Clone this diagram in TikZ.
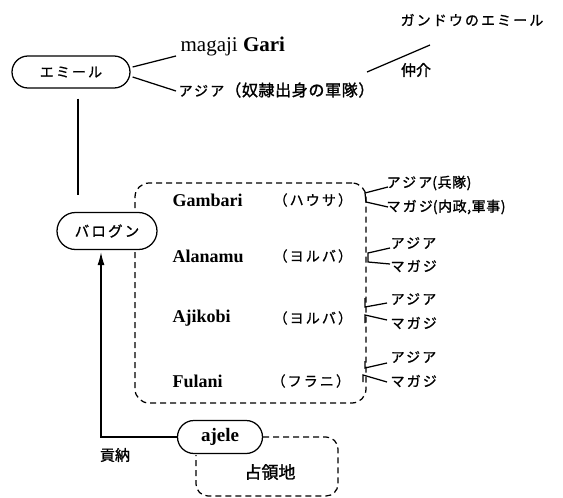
\documentclass[tikz,border=0pt]{standalone}
\usepackage{fontspec}
\setmainfont{Liberation Serif}
\newfontfamily\jp[FakeBold=1.5]{Noto Sans CJK JP}
\newfontfamily\jpsp[LetterSpace=15,FakeBold=1]{Noto Sans CJK JP}
\newfontfamily\jpsm[LetterSpace=4,FakeBold=1.5]{Noto Sans CJK JP}
\usetikzlibrary{shapes.misc,arrows.meta,calc}
\begin{document}
\begin{tikzpicture}[x=1pt,y=-1pt,line width=1.25pt,
  pill/.style={draw,rounded rectangle,inner sep=0pt,fill=white},
  grp/.style={font=\fontsize{18}{20}\selectfont\bfseries,anchor=west,inner sep=0pt},
  kana/.style={font=\fontsize{14}{16}\selectfont\jpsp,inner sep=0pt},
  kanas/.style={font=\fontsize{14}{16}\selectfont,inner sep=0pt,anchor=west},
  dashbox/.style={draw,dashed,dash pattern=on 6pt off 4pt,rounded corners=14pt}]
\useasboundingbox (0,0) rectangle (563,498);

% top right
\node[kana] (gandou) at (472,20) {ガンドウのエミール};
\node[font=\fontsize{15}{17}\selectfont\jp,inner sep=0pt] (chukai) at (416,70) {仲介};
\coordinate (medA) at (367,72);
\coordinate (medB) at (430,45);
\draw (medA) -- (medB);

% emir
\node[pill,minimum width=118,minimum height=32] (emir) at (71,72) {\fontsize{14}{16}\selectfont\jpsp エミール};
\node[anchor=west,inner sep=0pt,font=\fontsize{21}{23}\selectfont] (magaji) at (180,46) {magaji \textbf{Gari}};
\node[anchor=west,inner sep=0pt] (asia0) at (178,90) {{\fontsize{14}{16}\selectfont\jpsp アジア}\hspace{1pt}{\fontsize{16}{18}\selectfont\jpsm （奴隷出身の軍隊）}};
\draw ($(emir.east)+(2,-5)$) -- ($(magaji.west)+(-4,10)$);
\draw ($(emir.east)+(2,5)$) -- ($(asia0.west)+(-2,1)$);

% group box
\node[dashbox,minimum width=231,minimum height=220] (group) at (250.5,293) {};

% barogun
\node[pill,minimum width=100,minimum height=37] (barogun) at (107,231) {\fontsize{14.5}{16}\selectfont\jpsp バログン};
\draw ($(emir.south)+(7,10)$) -- ($(barogun.north)+(-29,-17)$);

% groups
\node[grp] (gambari) at (172,200) {Gambari};
\node[grp] (alanamu) at (172,256) {Alanamu};
\node[grp] (ajikobi) at (172,318) {Ajikobi};
\node[grp] (fulani) at (172,381) {Fulani};
\node[kana,anchor=west] (hausa) at (273,200) {（ハウサ）};
\node[kana,anchor=west] (yoruba1) at (273,256) {（ヨルバ）};
\node[kana,anchor=west] (yoruba2) at (273,318) {（ヨルバ）};
\node[kana,anchor=west] (furani) at (271,381) {（フラニ）};

% right labels
\node[kanas] (a1) at (386,183) {{\jpsp アジア}{\jpsm(兵隊)}};
\node[kanas] (m1) at (386,207) {{\jpsp マガジ}{\jpsm(内政,軍事)}};
\node[kana,anchor=west] (a2) at (390,243) {アジア};
\node[kana,anchor=west] (m2) at (390,266) {マガジ};
\node[kana,anchor=west] (a3) at (390,299) {アジア};
\node[kana,anchor=west] (m3) at (390,323) {マガジ};
\node[kana,anchor=west] (a4) at (390,357) {アジア};
\node[kana,anchor=west] (m4) at (390,381) {マガジ};

\draw ($(a1.west)+(2,4)$) -- (365,193) -- (366,202) -- ($(m1.west)+(2,0)$);
\draw ($(a2.west)+(0,5)$) -- (368,253) -- (368,262) -- ($(m2.west)+(0,-2)$);
\draw (365,298) -- (365,307) -- ($(a3.west)+(-3,4)$);
\draw (365,323) -- (365,315) -- ($(m3.west)+(-3,-3)$);
\draw (365,361) -- (365,368) -- ($(a4.west)+(-3,6)$);
\draw (363,382) -- (363,375) -- ($(m4.west)+(-3,1)$);

% ajele
\node[pill,minimum width=85,minimum height=33,font=\fontsize{19}{21}\selectfont\bfseries] (ajele) at (220,437) {ajele};
\draw[dashbox,rounded corners=12pt] (ajele.east) -- (338,437) -- (338,496) -- (196,496) -- ($(ajele.south)+(-24,1)$);
\node[font=\fontsize{17}{19}\selectfont\jp,inner sep=0pt] (senryo) at (270,472) {占領地};
\draw[-{Latex[length=13pt,width=7pt]}] (ajele.west) -| ($(barogun.south)+(-6,2)$);
\node[font=\fontsize{15}{17}\selectfont\jp,inner sep=0pt] (kono) at (115,455) {貢納};
\end{tikzpicture}
\end{document}
